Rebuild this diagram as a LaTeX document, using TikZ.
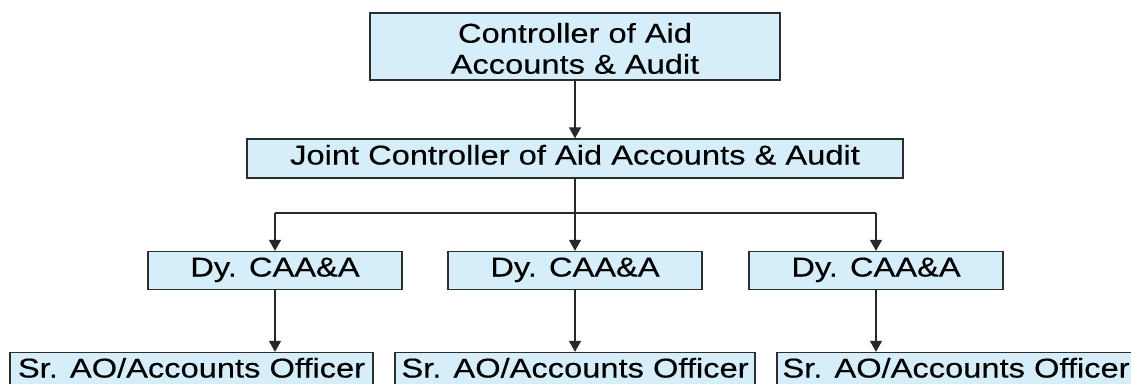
\documentclass[tikz,border=0pt]{standalone}
\usepackage{fontspec}
\setmainfont[FakeStretch=1.2,FakeBold=0.3]{Liberation Sans}
\usetikzlibrary{arrows.meta}
\definecolor{boxfill}{RGB}{213,238,250}
\definecolor{boxline}{RGB}{45,45,45}
\definecolor{linkline}{RGB}{40,40,40}
\begin{document}
\begin{tikzpicture}[x=1pt,y=-1pt,
  orgbox/.style={draw=boxline,fill=boxfill,line width=1.3pt,inner sep=0pt,
    font=\fontsize{27.2}{31}\selectfont,text height=21pt,text depth=9pt},
  link/.style={draw=linkline,line width=1.2pt,-{Triangle[width=12pt,length=11pt]}},
  trunk/.style={draw=linkline,line width=1.2pt}]
\useasboundingbox (0,0) rectangle (1131,383);
\clip (0,0) rectangle (1131,383);

% head of the office
\node[orgbox,minimum width=410pt,minimum height=67pt,text height=,text depth=]
  (cont) at (575,46.5)
  {\raisebox{-5.5pt}[\height][\depth]{\begin{tabular}{@{}c@{}}Controller of Aid\\Accounts \& Audit\end{tabular}}};
% deputy head
\node[orgbox,minimum width=656pt,minimum height=39pt] (joint) at (575,158.5)
  {Joint Controller of Aid Accounts \& Audit};

% deputy controllers
\node[orgbox,minimum width=254pt,minimum height=38pt] (dy1) at (275,270.5) {Dy. CAA\&A};
\node[orgbox,minimum width=254pt,minimum height=38pt] (dy2) at (575,270.5) {Dy. CAA\&A};
\node[orgbox,minimum width=254pt,minimum height=38pt] (dy3) at (876,270.5) {Dy. CAA\&A};

% accounts officers
\node[orgbox,minimum width=363pt,minimum height=38pt] (ao1) at (191.5,371.5) {Sr. AO/Accounts Officer};
\node[orgbox,minimum width=360pt,minimum height=38pt] (ao2) at (575,371.5) {Sr. AO/Accounts Officer};
\node[orgbox,minimum width=358pt,minimum height=38pt] (ao3) at (956,371.5) {Sr. AO/Accounts Officer};

% connectors
\coordinate (bus) at (575,213);
\draw[link] (cont.south) -- (joint.north);
\draw[link] (joint.south) -- (dy2.north);
\draw[trunk] (dy1.north |- bus) -- (dy3.north |- bus);
\draw[link] (dy1.north |- bus) -- (dy1.north);
\draw[link] (dy3.north |- bus) -- (dy3.north);
\draw[link] (dy1.south) -- (dy1.south |- ao1.north);
\draw[link] (dy2.south) -- (dy2.south |- ao2.north);
\draw[link] (dy3.south) -- (dy3.south |- ao3.north);
\end{tikzpicture}
\end{document}
